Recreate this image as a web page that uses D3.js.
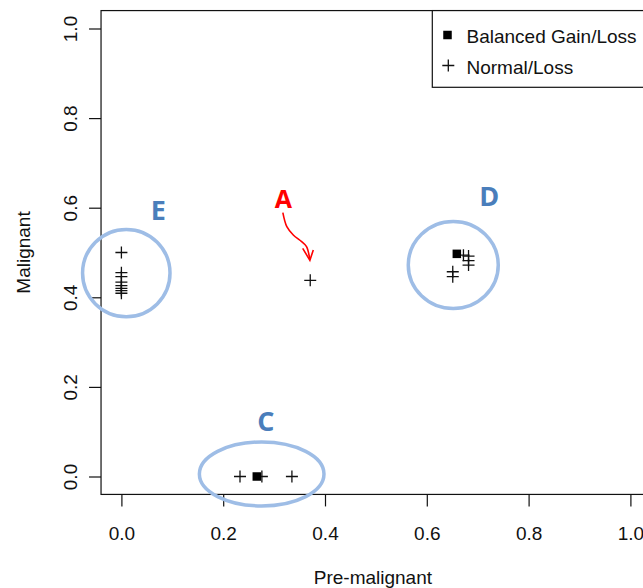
<!DOCTYPE html>
<html><head><meta charset="utf-8">
<script src="https://cdn.jsdelivr.net/npm/d3@7"></script>
<style>
html,body{margin:0;padding:0;background:#fff;}
svg{display:block;font-family:"Liberation Sans",Arial,sans-serif;}
</style></head>
<body><svg id="c" width="643" height="588"></svg>
<script>
// ---- data ----
const xTicks = [0, 0.2, 0.4, 0.6, 0.8, 1.0];
const yTicks = [0, 0.2, 0.4, 0.6, 0.8, 1.0];
const legendLabels = ["Balanced Gain/Loss", "Normal/Loss"];
const xTitle = "Pre-malignant";
const yTitle = "Malignant";

const balancedX = [0.266, 0.659];
const balancedY = [0.000, 0.497];

const normalX = [0.000, 0.000, 0.000, 0.000, 0.000, 0.000, 0.000, 0.000,
                 0.233, 0.276, 0.335,
                 0.371,
                 0.672, 0.682, 0.682, 0.682, 0.651, 0.651];
const normalY = [0.500, 0.455, 0.446, 0.434, 0.426, 0.420, 0.415, 0.409,
                 0.000, 0.000, 0.000,
                 0.438,
                 0.494, 0.492, 0.482, 0.472, 0.457, 0.446];

// annotation clusters (data units)
const clusterNames = ["E", "D", "C"];
const clusterCX = [0.0096, 0.652, 0.2756];
const clusterCY = [0.454, 0.472, 0.0056];
const clusterRX = [0.0859, 0.0884, 0.1224];
const clusterRY = [0.0975, 0.0971, 0.0714];
const clusterLabelX = [0.0725, 0.7228, 0.284];
const clusterLabelY = [0.595, 0.628, 0.1246];
const outlierName = "A";
const outlierLabelX = 0.318, outlierLabelY = 0.621;
const arrowX = [0.3172, 0.3250, 0.3377, 0.3541, 0.3637, 0.3703];
const arrowY = [0.5889, 0.5576, 0.5391, 0.5241, 0.5130, 0.4833];
const arrowHeadX = [0.3562, 0.3703, 0.3770];
const arrowHeadY = [0.5092, 0.4826, 0.5056];

// ---- drawing ----
const svg = d3.select("#c");
const x = d3.scaleLinear().domain([0, 1]).range([121.4, 630.4]);
const y = d3.scaleLinear().domain([0, 1]).range([476.5, 28.5]);
const x0 = x(-0.04), x1 = x(1.04), y0 = y(-0.04), y1 = y(1.04);
const ink = "#111";

// plot box
svg.append("rect").attr("x", x0).attr("y", y1)
  .attr("width", x1 - x0).attr("height", y0 - y1)
  .attr("fill", "none").attr("stroke", ink).attr("stroke-width", 1.2);

// x axis
const gx = svg.append("g").attr("transform", `translate(0,${y0})`)
  .call(d3.axisBottom(x).tickValues(xTicks).tickSize(12).tickFormat(d3.format(".1f")));
gx.select(".domain").remove();
gx.selectAll("line").attr("stroke", ink).attr("stroke-width", 1.2);
gx.selectAll("text").attr("y", 45.5).attr("dy", null)
  .attr("font-size", 19).attr("fill", ink).attr("font-family", "Liberation Sans, Arial, sans-serif");

// y axis
const gy = svg.append("g").attr("transform", `translate(${x0},0)`)
  .call(d3.axisLeft(y).tickValues(yTicks).tickSize(12).tickFormat(d3.format(".1f")));
gy.select(".domain").remove();
gy.selectAll("line").attr("stroke", ink).attr("stroke-width", 1.2);
gy.selectAll("text").attr("x", null).attr("dy", null)
  .attr("transform", `translate(${77 - x0},0) rotate(-90)`)
  .attr("text-anchor", "middle")
  .attr("font-size", 19).attr("fill", ink).attr("font-family", "Liberation Sans, Arial, sans-serif");

// axis titles
svg.append("text").attr("x", (x0 + x1) / 2 - 3).attr("y", 583.5)
  .attr("text-anchor", "middle").attr("font-size", 19).attr("fill", ink).text(xTitle);
svg.append("text").attr("transform", `translate(29.5,${(y0 + y1) / 2}) rotate(-90)`)
  .attr("text-anchor", "middle").attr("font-size", 19).attr("fill", ink).text(yTitle);

// plus marker helper
const arm = 6;
function plus(g, cx, cy) {
  g.append("path")
    .attr("d", `M${cx - arm},${cy}H${cx + arm}M${cx},${cy - arm}V${cy + arm}`)
    .attr("stroke", ink).attr("stroke-width", 1.3).attr("fill", "none");
}
const sq = 8.5;

// points
const gp = svg.append("g");
normalX.forEach((v, i) => plus(gp, x(v), y(normalY[i])));
balancedX.forEach((v, i) => {
  gp.append("rect").attr("x", x(v) - sq / 2).attr("y", y(balancedY[i]) - sq / 2)
    .attr("width", sq).attr("height", sq).attr("fill", "#000");
});

// legend
const lg = svg.append("g");
lg.append("rect").attr("x", 432.3).attr("y", y1).attr("width", x1 - 432.3).attr("height", 87.3 - y1)
  .attr("fill", "#fff").attr("stroke", ink).attr("stroke-width", 1.2);
lg.append("rect").attr("x", 447.5 - sq / 2).attr("y", 35 - sq / 2).attr("width", sq).attr("height", sq).attr("fill", "#000");
plus(lg, 448.3, 65.5);
legendLabels.forEach((t, i) => {
  lg.append("text").attr("x", 466.5).attr("y", 42.5 + i * 31)
    .attr("font-size", 19).attr("fill", ink).text(t);
});

// annotations
const blueRing = "#9ebde6", blueText = "#4a7ebb";
const ga = svg.append("g");
clusterNames.forEach((n, i) => {
  ga.append("ellipse")
    .attr("cx", x(clusterCX[i])).attr("cy", y(clusterCY[i]))
    .attr("rx", x(clusterRX[i]) - x(0)).attr("ry", y(0) - y(clusterRY[i]))
    .attr("fill", "none").attr("stroke", blueRing).attr("stroke-width", 3.5);
  ga.append("text").attr("x", x(clusterLabelX[i])).attr("y", y(clusterLabelY[i]))
    .attr("text-anchor", "middle").attr("dominant-baseline", "central")
    .attr("font-size", 27).attr("font-weight", "bold").attr("fill", blueText)
    .attr("font-family", "Open Sans, Liberation Sans, sans-serif").text(n);
});
ga.append("text").attr("x", x(outlierLabelX)).attr("y", y(outlierLabelY))
  .attr("text-anchor", "middle").attr("dominant-baseline", "central")
  .attr("font-size", 25).attr("font-weight", "bold").attr("fill", "#ff0000")
  .attr("font-family", "Open Sans, Liberation Sans, sans-serif").text(outlierName);
const line = d3.line().x(d => x(d[0])).y(d => y(d[1])).curve(d3.curveCatmullRom);
ga.append("path").attr("d", line(arrowX.map((v, i) => [v, arrowY[i]])))
  .attr("fill", "none").attr("stroke", "#ff0000").attr("stroke-width", 1.6);
ga.append("path").attr("d", d3.line().x(d => x(d[0])).y(d => y(d[1]))(arrowHeadX.map((v, i) => [v, arrowHeadY[i]])))
  .attr("fill", "none").attr("stroke", "#ff0000").attr("stroke-width", 1.6);
</script></body></html>
